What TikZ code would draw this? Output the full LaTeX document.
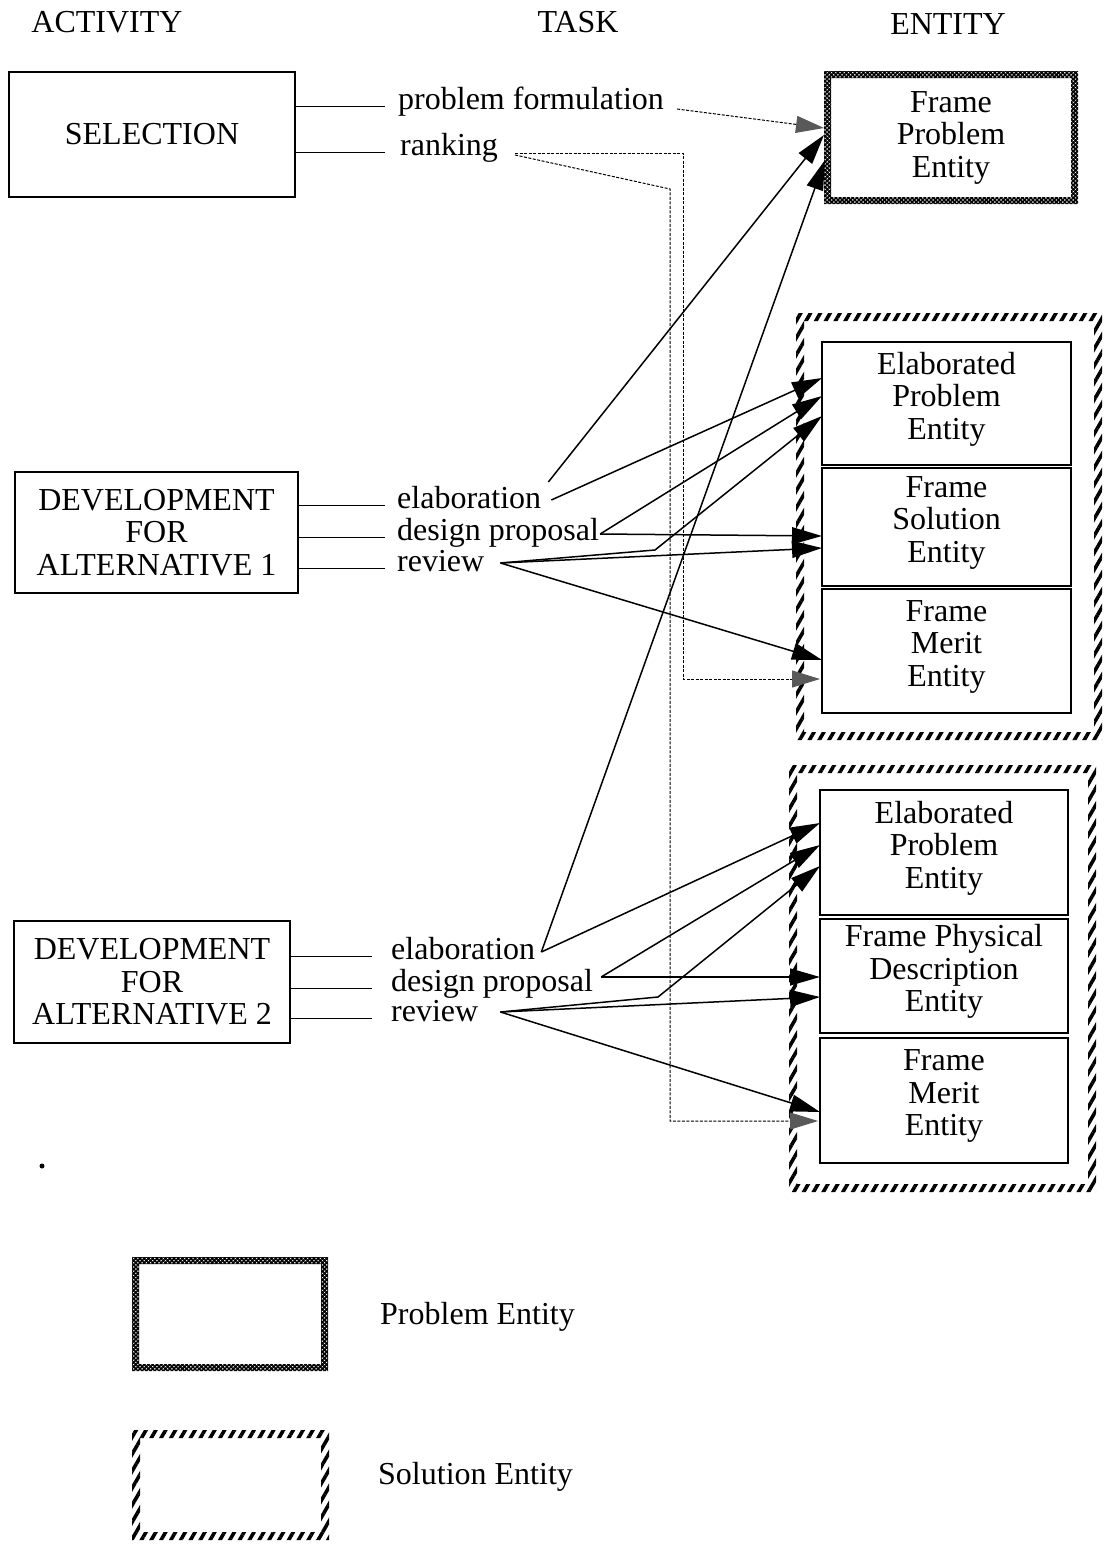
\documentclass[tikz,border=0pt]{standalone}
\usepackage{fontspec}
\setmainfont{Liberation Serif}
\usetikzlibrary{arrows.meta,patterns.meta,calc}

% textured band drawn just inside the border of a node
\newcommand\bandframe[3]{%
  \fill[#2, even odd rule] (#1.north west) rectangle (#1.south east)
    ([shift={(#3,-#3)}]#1.north west) rectangle ([shift={(-#3,#3)}]#1.south east);}

\begin{document}
\begin{tikzpicture}[x=1pt,y=-1pt,
  every node/.style={font=\fontsize{32}{32.5}\selectfont},
  box/.style={draw, line width=1.2pt, inner sep=0pt, outer sep=0pt, align=center},
  frame/.style={inner sep=0pt, outer sep=0pt, align=center},
  task/.style={anchor=base west, inner sep=0pt},
  link/.style={line width=1.2pt},
  conn/.style={line width=1.5pt, -{Triangle[length=30pt,width=17pt]}},
  dotconn/.style={line width=1pt, dash pattern=on 3pt off 1.5pt,
    -{Triangle[length=28pt,width=17pt,color=black!65]}},
  probhatch/.style={pattern={Hatch[distance=3pt,angle=45,line width=1.6pt]}},
  solhatch/.style={pattern={Lines[angle=60,distance=8.5pt,line width=3.6pt]}},
]
\fill[white] (0,0) rectangle (1103,1547);
\useasboundingbox (0,0) rectangle (1103,1547);

% column headings
\node (hact) at (107,22) {ACTIVITY};
\node (htask) at (578,22) {TASK};
\node (hent) at (948,24) {ENTITY};

% activities
\node[box, minimum width=286pt, minimum height=125pt] (sel) at (152,134.5) {SELECTION};
\node[box, minimum width=283pt, minimum height=121pt] (dev1) at (156.5,532.5) {DEVELOPMENT\\FOR\\ALTERNATIVE 1};
\node[box, minimum width=276pt, minimum height=122pt] (dev2) at (152,982) {DEVELOPMENT\\FOR\\ALTERNATIVE 2};

% tasks
\node[task] (pf) at (398,109) {problem formulation};
\node[task] (rk) at (400,155) {ranking};
\node[task] (el1) at (397,508) {elaboration};
\node[task] (dp1) at (397,540) {design proposal};
\node[task] (rv1) at (397,571) {review};
\node[task] (el2) at (391,959) {elaboration};
\node[task] (dp2) at (391,991) {design proposal};
\node[task] (rv2) at (391,1021) {review};

% activity-to-task links
\draw[link] (sel.east |- pf.mid) -- ([xshift=-13pt]pf.mid west);
\draw[link] (sel.east |- rk.mid) -- ([xshift=-15pt]rk.mid west);
\draw[link] (dev1.east |- el1.mid) -- ([xshift=-12pt]el1.mid west);
\draw[link] (dev1.east |- dp1.mid) -- ([xshift=-12pt]dp1.mid west);
\draw[link] (dev1.east |- rv1.mid) -- ([xshift=-12pt]rv1.mid west);
\draw[link] (dev2.east |- el2.mid) -- ([xshift=-19pt]el2.mid west);
\draw[link] (dev2.east |- dp2.mid) -- ([xshift=-19pt]dp2.mid west);
\draw[link] (dev2.east |- rv2.mid) -- ([xshift=-19pt]rv2.mid west);

% problem entity
\node[frame, minimum width=254pt, minimum height=133pt] (fpe) at (951,137.5) {Frame\\Problem\\Entity};
\bandframe{fpe}{probhatch}{7pt}

% solution entity, alternative 1
\node[frame, minimum width=306pt, minimum height=427pt] (sol1) at (949,526.5) {};
\bandframe{sol1}{solhatch}{8pt}
\node[box, minimum width=249pt, minimum height=123pt] (ep1) at (946.5,403.5) {Elaborated\\Problem\\Entity\\[-17pt]};
\node[box, minimum width=249pt, minimum height=118pt] (fs1) at (946.5,527) {Frame\\Solution\\Entity\\[-17pt]};
\node[box, minimum width=249pt, minimum height=124pt] (fm1) at (946.5,651) {Frame\\Merit\\Entity\\[-17pt]};

% solution entity, alternative 2
\node[frame, minimum width=307pt, minimum height=427pt] (sol2) at (942.5,978.5) {};
\bandframe{sol2}{solhatch}{8pt}
\node[box, minimum width=248pt, minimum height=125pt] (ep2) at (944,852.5) {Elaborated\\Problem\\Entity\\[-17pt]};
\node[box, minimum width=248pt, minimum height=114pt] (fpd2) at (944,976) {Frame Physical\\Description\\Entity\\[-17pt]};
\node[box, minimum width=248pt, minimum height=125pt] (fm2) at (944,1100.5) {Frame\\Merit\\Entity\\[-17pt]};

% task-to-entity connectors, alternative 1
\draw[conn] ($(el1.base east)+(7,-26)$) -- ($(fpe.west)+(0,-2.5)$);
\draw[conn] ($(el1.base east)+(10,-8)$) -- ($(ep1.west)+(0,-25.5)$);
\draw[conn] ($(dp1.base east)+(1,-6)$) -- ($(ep1.west)+(0,-7.5)$);
\draw[conn] ($(dp1.base east)+(1,-6)$) -- ($(fs1.west)+(0,9)$);
\draw[conn] ($(rv1.base east)+(16,-8)$) -- (655,550) -- ($(ep1.west)+(0,12.5)$);
\draw[conn] ($(rv1.base east)+(16,-8)$) -- ($(fs1.west)+(0,21)$);
\draw[conn] ($(rv1.base east)+(16,-8)$) -- ($(fm1.west)+(0,9)$);

% task-to-entity connectors, alternative 2
\draw[conn] ($(el2.base east)+(6,-7)$) -- ($(fpe.west)+(1,22.5)$);
\draw[conn] ($(el2.base east)+(6,-7)$) -- ($(ep2.west)+(0,-29.5)$);
\draw[conn] ($(dp2.base east)+(8,-14)$) -- ($(ep2.west)+(0,-7.5)$);
\draw[conn] ($(dp2.base east)+(8,-14)$) -- ($(fpd2.west)+(0,1)$);
\draw[conn] ($(rv2.base east)+(22,-9)$) -- (658,997) -- ($(ep2.west)+(0,13.5)$);
\draw[conn] ($(rv2.base east)+(22,-9)$) -- ($(fpd2.west)+(0,21)$);
\draw[conn] ($(rv2.base east)+(22,-9)$) -- ($(fm2.west)+(0,11.5)$);

% selection task connectors
\draw[dotconn] ($(pf.base east)+(13,0)$) -- ($(fpe.west)+(0,-9.5)$);
\draw[dotconn] ($(rk.base east)+(17,-2)$) -- (683,153) |- ($(fm1.west)+(-2,28)$);
\draw[dotconn] ($(rk.base east)+(17,0)$) -- (670,189) |- ($(fm2.west)+(-2,20.5)$);

\fill (42,1166) circle (2.5pt);

% legend
\node[frame, minimum width=196pt, minimum height=114pt] (lp) at (230,1314) {};
\bandframe{lp}{probhatch}{7pt}
\node[anchor=west, inner sep=0pt] (lpt) at (380,1317) {Problem Entity};
\node[frame, minimum width=197pt, minimum height=110pt] (ls) at (230.5,1485) {};
\bandframe{ls}{solhatch}{8pt}
\node[anchor=west, inner sep=0pt] (lst) at (378,1477) {Solution Entity};
\end{tikzpicture}
\end{document}
